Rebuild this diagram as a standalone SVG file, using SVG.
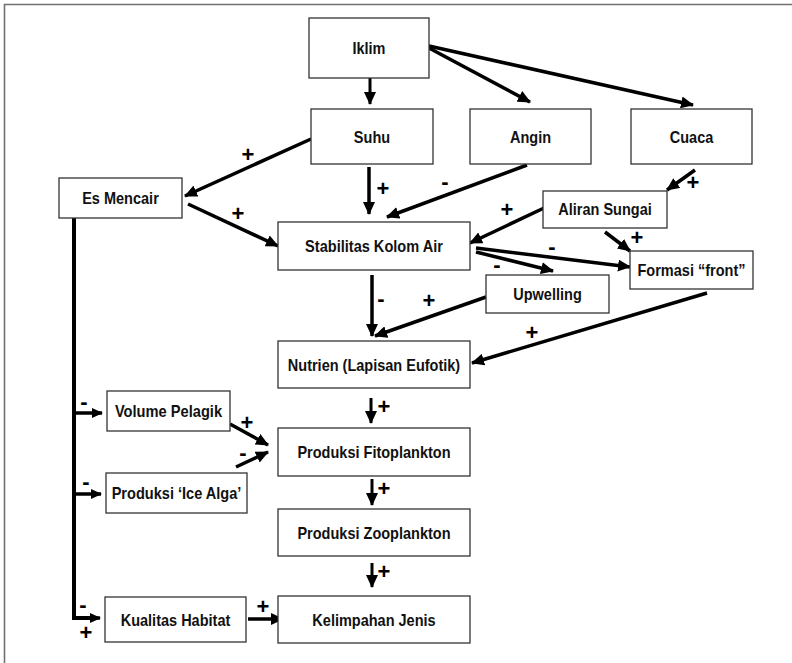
<svg xmlns="http://www.w3.org/2000/svg" width="792" height="663" viewBox="0 0 792 663">
  <defs>
    <marker id="head" markerUnits="userSpaceOnUse" markerWidth="13" markerHeight="12" refX="12" refY="6" orient="auto">
      <path d="M0,0 L13,6 L0,12 z" fill="#000"/>
    </marker>
    <marker id="headSmall" markerUnits="userSpaceOnUse" markerWidth="11" markerHeight="10" refX="10" refY="5" orient="auto">
      <path d="M0,0 L11,5 L0,10 z" fill="#000"/>
    </marker>
    <style>
      .box { fill: #fff; stroke: #333; stroke-width: 1.3; }
      .lbl { font-family: "Liberation Sans", Arial, sans-serif; font-weight: bold; font-size: 16.5px; fill: #111; text-anchor: middle; }
      .sign { font-family: "Liberation Sans", Arial, sans-serif; font-weight: bold; font-size: 22px; fill: #000; text-anchor: middle; }
      .link { fill: none; stroke: #000; stroke-width: 3.5; marker-end: url(#head); }
      .short { fill: none; stroke: #000; stroke-width: 3; marker-end: url(#head); }
      .trunk { fill: none; stroke: #000; stroke-width: 4; }
      .branch { fill: none; stroke: #000; stroke-width: 3.5; marker-end: url(#headSmall); }
    </style>
  </defs>

  <rect width="792" height="663" fill="#fff"/>
  <!-- page frame: top and left edges -->
  <path d="M4.5,663 L4.5,4.5 L792,4.5" fill="none" stroke="#707070" stroke-width="1.6"/>

  <!-- connectors -->
  <g id="connectors">
    <path class="short" d="M370,78 L370,104"/>
    <path class="link" d="M429,48 L530,102"/>
    <path class="link" d="M429,46 L693,105"/>
    <path class="link" d="M311,139 L185,196"/>
    <path class="link" d="M369,167 L369,214"/>
    <path class="link" d="M527,165 L387,217"/>
    <path class="link" d="M188,204 L278,246"/>
    <path class="link" d="M695,170 L667,190"/>
    <path class="link" d="M544,208 L470,243"/>
    <path class="link" d="M605,232 L630,251"/>
    <path class="link" d="M476,248 L630,267"/>
    <path class="link" d="M476,252 L553,271"/>
    <path class="link" d="M372,275 L372,336"/>
    <path class="link" d="M486,297 L375,336"/>
    <path class="link" d="M707,293 L472,363"/>
    <path class="short" d="M371,398 L371,423"/>
    <path class="short" d="M372,479 L372,505"/>
    <path class="short" d="M372,563 L372,587"/>
    <path class="link" d="M230,424 L268,445"/>
    <path class="link" d="M236,467 L268,452"/>
    <path class="trunk" d="M74,218 L74,618 L92,618"/>
    <path class="branch" d="M72,618 L100,618"/>
    <path class="branch" d="M74,413 L102,413"/>
    <path class="branch" d="M74,494 L101,494"/>
    <path class="link" d="M248,619 L283,619"/>
  </g>

  <!-- polarity signs -->
  <g id="signs">
    <text class="sign" x="248" y="162">+</text>
    <text class="sign" x="383" y="196">+</text>
    <text class="sign" x="238" y="221">+</text>
    <text class="sign" x="693" y="190">+</text>
    <text class="sign" x="507" y="217">+</text>
    <text class="sign" x="637" y="245">+</text>
    <text class="sign" x="429" y="308">+</text>
    <text class="sign" x="532" y="340">+</text>
    <text class="sign" x="384" y="414">+</text>
    <text class="sign" x="384" y="496">+</text>
    <text class="sign" x="384" y="579">+</text>
    <text class="sign" x="247" y="430">+</text>
    <text class="sign" x="86" y="640">+</text>
    <text class="sign" x="263" y="614">+</text>
    <text class="sign" x="445" y="189">-</text>
    <text class="sign" x="552" y="254">-</text>
    <text class="sign" x="497" y="272">-</text>
    <text class="sign" x="381" y="306">-</text>
    <text class="sign" x="243" y="460">-</text>
    <text class="sign" x="84" y="409">-</text>
    <text class="sign" x="86" y="489">-</text>
    <text class="sign" x="83" y="612">-</text>
  </g>

  <!-- nodes -->
  <g id="iklim"><rect class="box" x="309" y="18" width="120" height="60"/><text class="lbl" x="369" y="54" textLength="33" lengthAdjust="spacingAndGlyphs">Iklim</text></g>
  <g id="suhu"><rect class="box" x="311" y="109" width="122" height="55"/><text class="lbl" x="372" y="142.5" textLength="36.3" lengthAdjust="spacingAndGlyphs">Suhu</text></g>
  <g id="angin"><rect class="box" x="470" y="109" width="121" height="55"/><text class="lbl" x="530.5" y="142.5" textLength="41.1" lengthAdjust="spacingAndGlyphs">Angin</text></g>
  <g id="cuaca"><rect class="box" x="631" y="109" width="121" height="55"/><text class="lbl" x="691.5" y="142.5" textLength="43.5" lengthAdjust="spacingAndGlyphs">Cuaca</text></g>
  <g id="es-mencair"><rect class="box" x="59" y="178" width="123" height="40"/><text class="lbl" x="120.5" y="204" textLength="76.6" lengthAdjust="spacingAndGlyphs">Es Mencair</text></g>
  <g id="stabilitas"><rect class="box" x="278" y="222" width="192" height="48"/><text class="lbl" x="374" y="251.5" textLength="137.8" lengthAdjust="spacingAndGlyphs">Stabilitas Kolom Air</text></g>
  <g id="aliran-sungai"><rect class="box" x="543" y="191" width="124" height="37"/><text class="lbl" x="605" y="215" textLength="93.5" lengthAdjust="spacingAndGlyphs">Aliran Sungai</text></g>
  <g id="formasi-front"><rect class="box" x="630" y="251" width="123" height="38"/><text class="lbl" x="691.5" y="276" textLength="108" lengthAdjust="spacingAndGlyphs">Formasi “front”</text></g>
  <g id="upwelling"><rect class="box" x="486" y="275" width="123" height="38"/><text class="lbl" x="547.5" y="300" textLength="68.5" lengthAdjust="spacingAndGlyphs">Upwelling</text></g>
  <g id="nutrien"><rect class="box" x="278" y="341" width="192" height="47"/><text class="lbl" x="374" y="370.5" textLength="172.4" lengthAdjust="spacingAndGlyphs">Nutrien (Lapisan Eufotik)</text></g>
  <g id="volume-pelagik"><rect class="box" x="107" y="391" width="123" height="40"/><text class="lbl" x="168.5" y="417" textLength="107.2" lengthAdjust="spacingAndGlyphs">Volume Pelagik</text></g>
  <g id="fitoplankton"><rect class="box" x="278" y="428" width="192" height="48"/><text class="lbl" x="374" y="458" textLength="153.1" lengthAdjust="spacingAndGlyphs">Produksi Fitoplankton</text></g>
  <g id="ice-alga"><rect class="box" x="106" y="473" width="141" height="40"/><text class="lbl" x="176.5" y="499" textLength="129.7" lengthAdjust="spacingAndGlyphs">Produksi ‘Ice Alga’</text></g>
  <g id="zooplankton"><rect class="box" x="278" y="509" width="192" height="47"/><text class="lbl" x="374" y="538.5" textLength="153.1" lengthAdjust="spacingAndGlyphs">Produksi Zooplankton</text></g>
  <g id="kualitas-habitat"><rect class="box" x="105" y="597" width="141" height="45"/><text class="lbl" x="175.5" y="625.5" textLength="109.6" lengthAdjust="spacingAndGlyphs">Kualitas Habitat</text></g>
  <g id="kelimpahan-jenis"><rect class="box" x="278" y="596" width="192" height="47"/><text class="lbl" x="374" y="625.5" textLength="123.3" lengthAdjust="spacingAndGlyphs">Kelimpahan Jenis</text></g>
</svg>
